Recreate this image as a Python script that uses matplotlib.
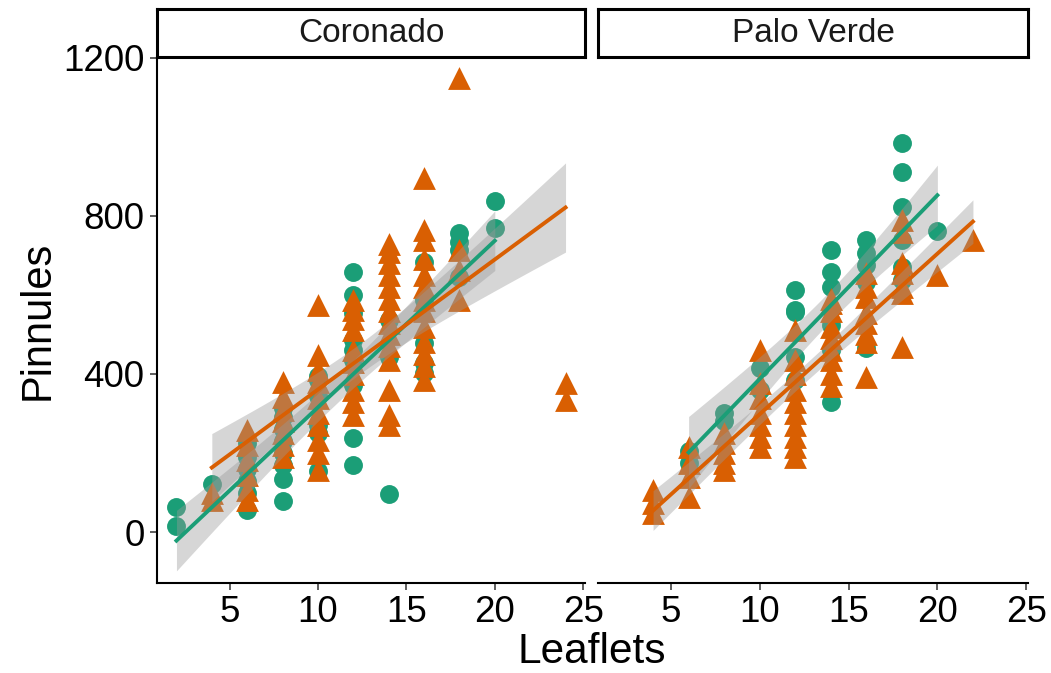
import numpy as np
import matplotlib
matplotlib.use("Agg")
import matplotlib.pyplot as plt

plt.rcParams["font.family"] = ["Liberation Sans", "DejaVu Sans"]

# data: leaflets (x) and pinnules (y), per site and group
cor_g_x = [2, 2, 4, 6, 6, 6, 6, 6, 6, 8, 8, 8, 8, 8, 8, 8, 8,
           10, 10, 10, 10, 10, 10, 12, 12, 12, 12, 12, 12, 12, 12, 12,
           14, 14, 14, 16, 16, 16, 16, 16, 18, 18, 18, 18, 20, 20]
cor_g_y = [63, 15, 121, 56, 100, 130, 160, 190, 225, 78, 135, 170, 200, 230, 260, 290, 315,
           155, 250, 270, 345, 385, 395, 170, 238, 372, 435, 460, 486, 554, 600, 658,
           96, 443, 537, 402, 428, 478, 587, 684, 645, 714, 734, 757, 770, 838]

cor_o_x = [4, 4, 6, 6, 6, 6, 6, 6, 8, 8, 8, 8, 8, 8, 8,
           10, 10, 10, 10, 10, 10, 10, 10, 10, 10,
           12, 12, 12, 12, 12, 12, 12, 12, 12, 12,
           14, 14, 14, 14, 14, 14, 14, 14, 14, 14, 14, 14, 14, 14,
           16, 16, 16, 16, 16, 16, 16, 16, 16, 16, 16, 16, 16,
           18, 18, 18, 18, 24, 24]
cor_o_y = [81, 99, 81, 106, 144, 182, 220, 258, 190, 220, 250, 280, 310, 342, 380,
           157, 200, 233, 270, 300, 340, 380, 410, 448, 575,
           296, 330, 360, 400, 430, 460, 511, 540, 562, 587,
           271, 296, 360, 435, 470, 500, 530, 560, 590, 620, 650, 680, 710, 729,
           385, 420, 450, 480, 520, 560, 587, 620, 650, 690, 740, 765, 896,
           587, 663, 714, 1150, 334, 377]

pv_g_x = [6, 6, 8, 8, 10, 10, 12, 12, 12, 12, 12, 14, 14, 14, 14, 14, 14,
          16, 16, 16, 16, 16, 18, 18, 18, 18, 18, 18, 20]
pv_g_y = [175, 205, 280, 300, 360, 415, 385, 443, 557, 562, 613, 330, 460, 524, 620, 658, 714,
          466, 633, 676, 706, 739, 638, 671, 740, 823, 911, 985, 762]

pv_o_x = [4, 4, 4, 6, 6, 6, 6, 8, 8, 8, 8, 8,
          10, 10, 10, 10, 10, 10, 10,
          12, 12, 12, 12, 12, 12, 12, 12, 12, 12,
          14, 14, 14, 14, 14, 14, 14, 14, 14,
          16, 16, 16, 16, 16, 16, 16, 16,
          18, 18, 18, 18, 18, 18, 18, 20, 22]
pv_o_y = [48, 73, 106, 89, 139, 175, 215, 157, 175, 200, 225, 250,
          215, 240, 270, 300, 340, 377, 460,
          190, 215, 240, 270, 300, 330, 360, 400, 435, 511,
          370, 400, 435, 460, 490, 520, 560, 580, 590,
          392, 480, 500, 530, 555, 595, 620, 655,
          468, 605, 620, 655, 680, 760, 790, 650, 740]

sites = ["Coronado", "Palo Verde"]
green = "#1B9E77"
orange = "#D95F02"


def fit_band(x, y):
    x = np.asarray(x, float)
    y = np.asarray(y, float)
    n = len(x)
    b, a = np.polyfit(x, y, 1)
    xs = np.linspace(x.min(), x.max(), 80)
    yhat = a + b * xs
    resid = y - (a + b * x)
    s = np.sqrt(np.sum(resid ** 2) / (n - 2))
    sxx = np.sum((x - x.mean()) ** 2)
    se = s * np.sqrt(1 / n + (xs - x.mean()) ** 2 / sxx)
    return xs, yhat, yhat - 1.99 * se, yhat + 1.99 * se


W, H = 1051, 673
fig = plt.figure(figsize=(W / 100, H / 100), dpi=100)

panels = [(157, 585), (598, 1028)]
top, bot = 57.5, 583
data = [((cor_g_x, cor_g_y), (cor_o_x, cor_o_y)),
        ((pv_g_x, pv_g_y), (pv_o_x, pv_o_y))]

for i, ((l, r), site, (g, o)) in enumerate(zip(panels, sites, data)):
    ax = fig.add_axes([l / W, (H - bot) / H, (r - l) / W, (bot - top) / H])
    ax.scatter(g[0], g[1], s=185, marker="o", color=green, linewidths=0, zorder=2)
    ax.scatter(o[0], o[1], s=270, marker="^", color=orange, linewidths=0, zorder=2)
    for (x, y), c in [(g, green), (o, orange)]:
        xs, yh, lo, hi = fit_band(x, y)
        ax.fill_between(xs, lo, hi, color="#999999", alpha=0.4, linewidth=0, zorder=3)
        ax.plot(xs, yh, color=c, lw=2.8, zorder=4)

    ax.set_xlim(0.9, 25.1)
    ax.set_ylim(-129, 1201)
    ax.set_xticks([5, 10, 15, 20, 25])
    ax.set_yticks([0, 400, 800, 1200])
    ax.tick_params(labelsize=26.5, length=5, width=1.1, color="#333333", pad=4)
    for sp in ["top", "right"]:
        ax.spines[sp].set_visible(False)
    ax.spines["bottom"].set_linewidth(1.5)
    if i == 0:
        ax.spines["left"].set_linewidth(1.5)
        ax.set_ylabel("Pinnules", fontsize=30, labelpad=4)
    else:
        ax.spines["left"].set_visible(False)
        ax.tick_params(axis="y", left=False, labelleft=False)

    # facet strip
    sax = fig.add_axes([l / W, (H - 57) / H, (r - l) / W, 48 / H])
    sax.set_xticks([])
    sax.set_yticks([])
    for sp in sax.spines.values():
        sp.set_linewidth(2.2)
        sp.set_color("black")
    sax.text(0.5, 0.48, site, ha="center", va="center", fontsize=24,
             color="#1A1A1A", transform=sax.transAxes)

fig.text(592 / W, 1 - 652 / H, "Leaflets", ha="center", va="center", fontsize=30.5)

fig.savefig("out.png", dpi=100)
